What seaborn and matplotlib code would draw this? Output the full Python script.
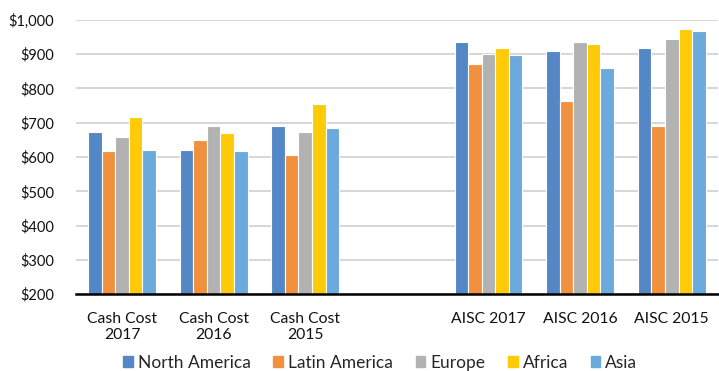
import matplotlib
matplotlib.use("Agg")
import matplotlib.pyplot as plt
import seaborn as sns
import pandas as pd
from matplotlib.ticker import FuncFormatter

# categories (blank slot separates the two groups)
categories = ["Cash Cost\n2017", "Cash Cost\n2016", "Cash Cost\n2015", " ",
              "AISC 2017", "AISC 2016", "AISC 2015"]
regions = ["North America", "Latin America", "Europe", "Africa", "Asia"]

north_america = [673, 621, 690, None, 935, 908, 918]
latin_america = [617, 648, 606, None, 870, 763, 689]
europe = [658, 690, 673, None, 899, 935, 945]
africa = [715, 669, 753, None, 918, 930, 972]
asia = [621, 617, 684, None, 898, 860, 967]

colors = ["#5387C6", "#F1913F", "#B2B2B2", "#FFCA08", "#6CAADD"]

rows = []
for reg, vals in zip(regions, [north_america, latin_america, europe, africa, asia]):
    for cat, v in zip(categories, vals):
        if v is not None:
            rows.append({"cat": cat, "region": reg, "value": v})
df = pd.DataFrame(rows)

sns.set_style("white")
plt.rcParams["font.family"] = ["Lato", "DejaVu Sans"]

fig = plt.figure(figsize=(7.19, 3.71), dpi=100)
ax = fig.add_axes([0.106, 0.207, 0.892, 0.74])

sns.barplot(data=df, x="cat", y="value", hue="region", order=categories,
            hue_order=regions, palette=colors, width=0.74, saturation=1,
            edgecolor="white", linewidth=0.8, ax=ax, legend=True)

ax.set_ylim(200, 1000)
ax.set_yticks(range(200, 1001, 100))
ax.yaxis.set_major_formatter(FuncFormatter(lambda v, p: f"${v:,.0f}"))
ax.yaxis.grid(True, color="#D0D0D0", linewidth=1.2)
ax.set_axisbelow(True)
ax.set_xlabel("")
ax.set_ylabel("")
for s in ["top", "right", "left"]:
    ax.spines[s].set_visible(False)
ax.spines["bottom"].set_color("black")
ax.spines["bottom"].set_linewidth(1.8)
ax.spines["bottom"].set_zorder(5)
ax.tick_params(axis="both", length=0, colors="#111111")
ax.tick_params(axis="y", pad=16, labelsize=10.5)
ax.tick_params(axis="x", pad=13, labelsize=11.3)

ax.legend_.remove()
handles = [plt.Rectangle((0, 0), 1, 1, color=c) for c in colors]
fig.legend(handles, regions, loc="center", bbox_to_anchor=(0.529, 0.022),
           ncol=5, frameon=False, fontsize=12.5, handlelength=0.55,
           handleheight=0.55, handletextpad=0.3, columnspacing=1.3)

fig.savefig("out.png", dpi=100)
